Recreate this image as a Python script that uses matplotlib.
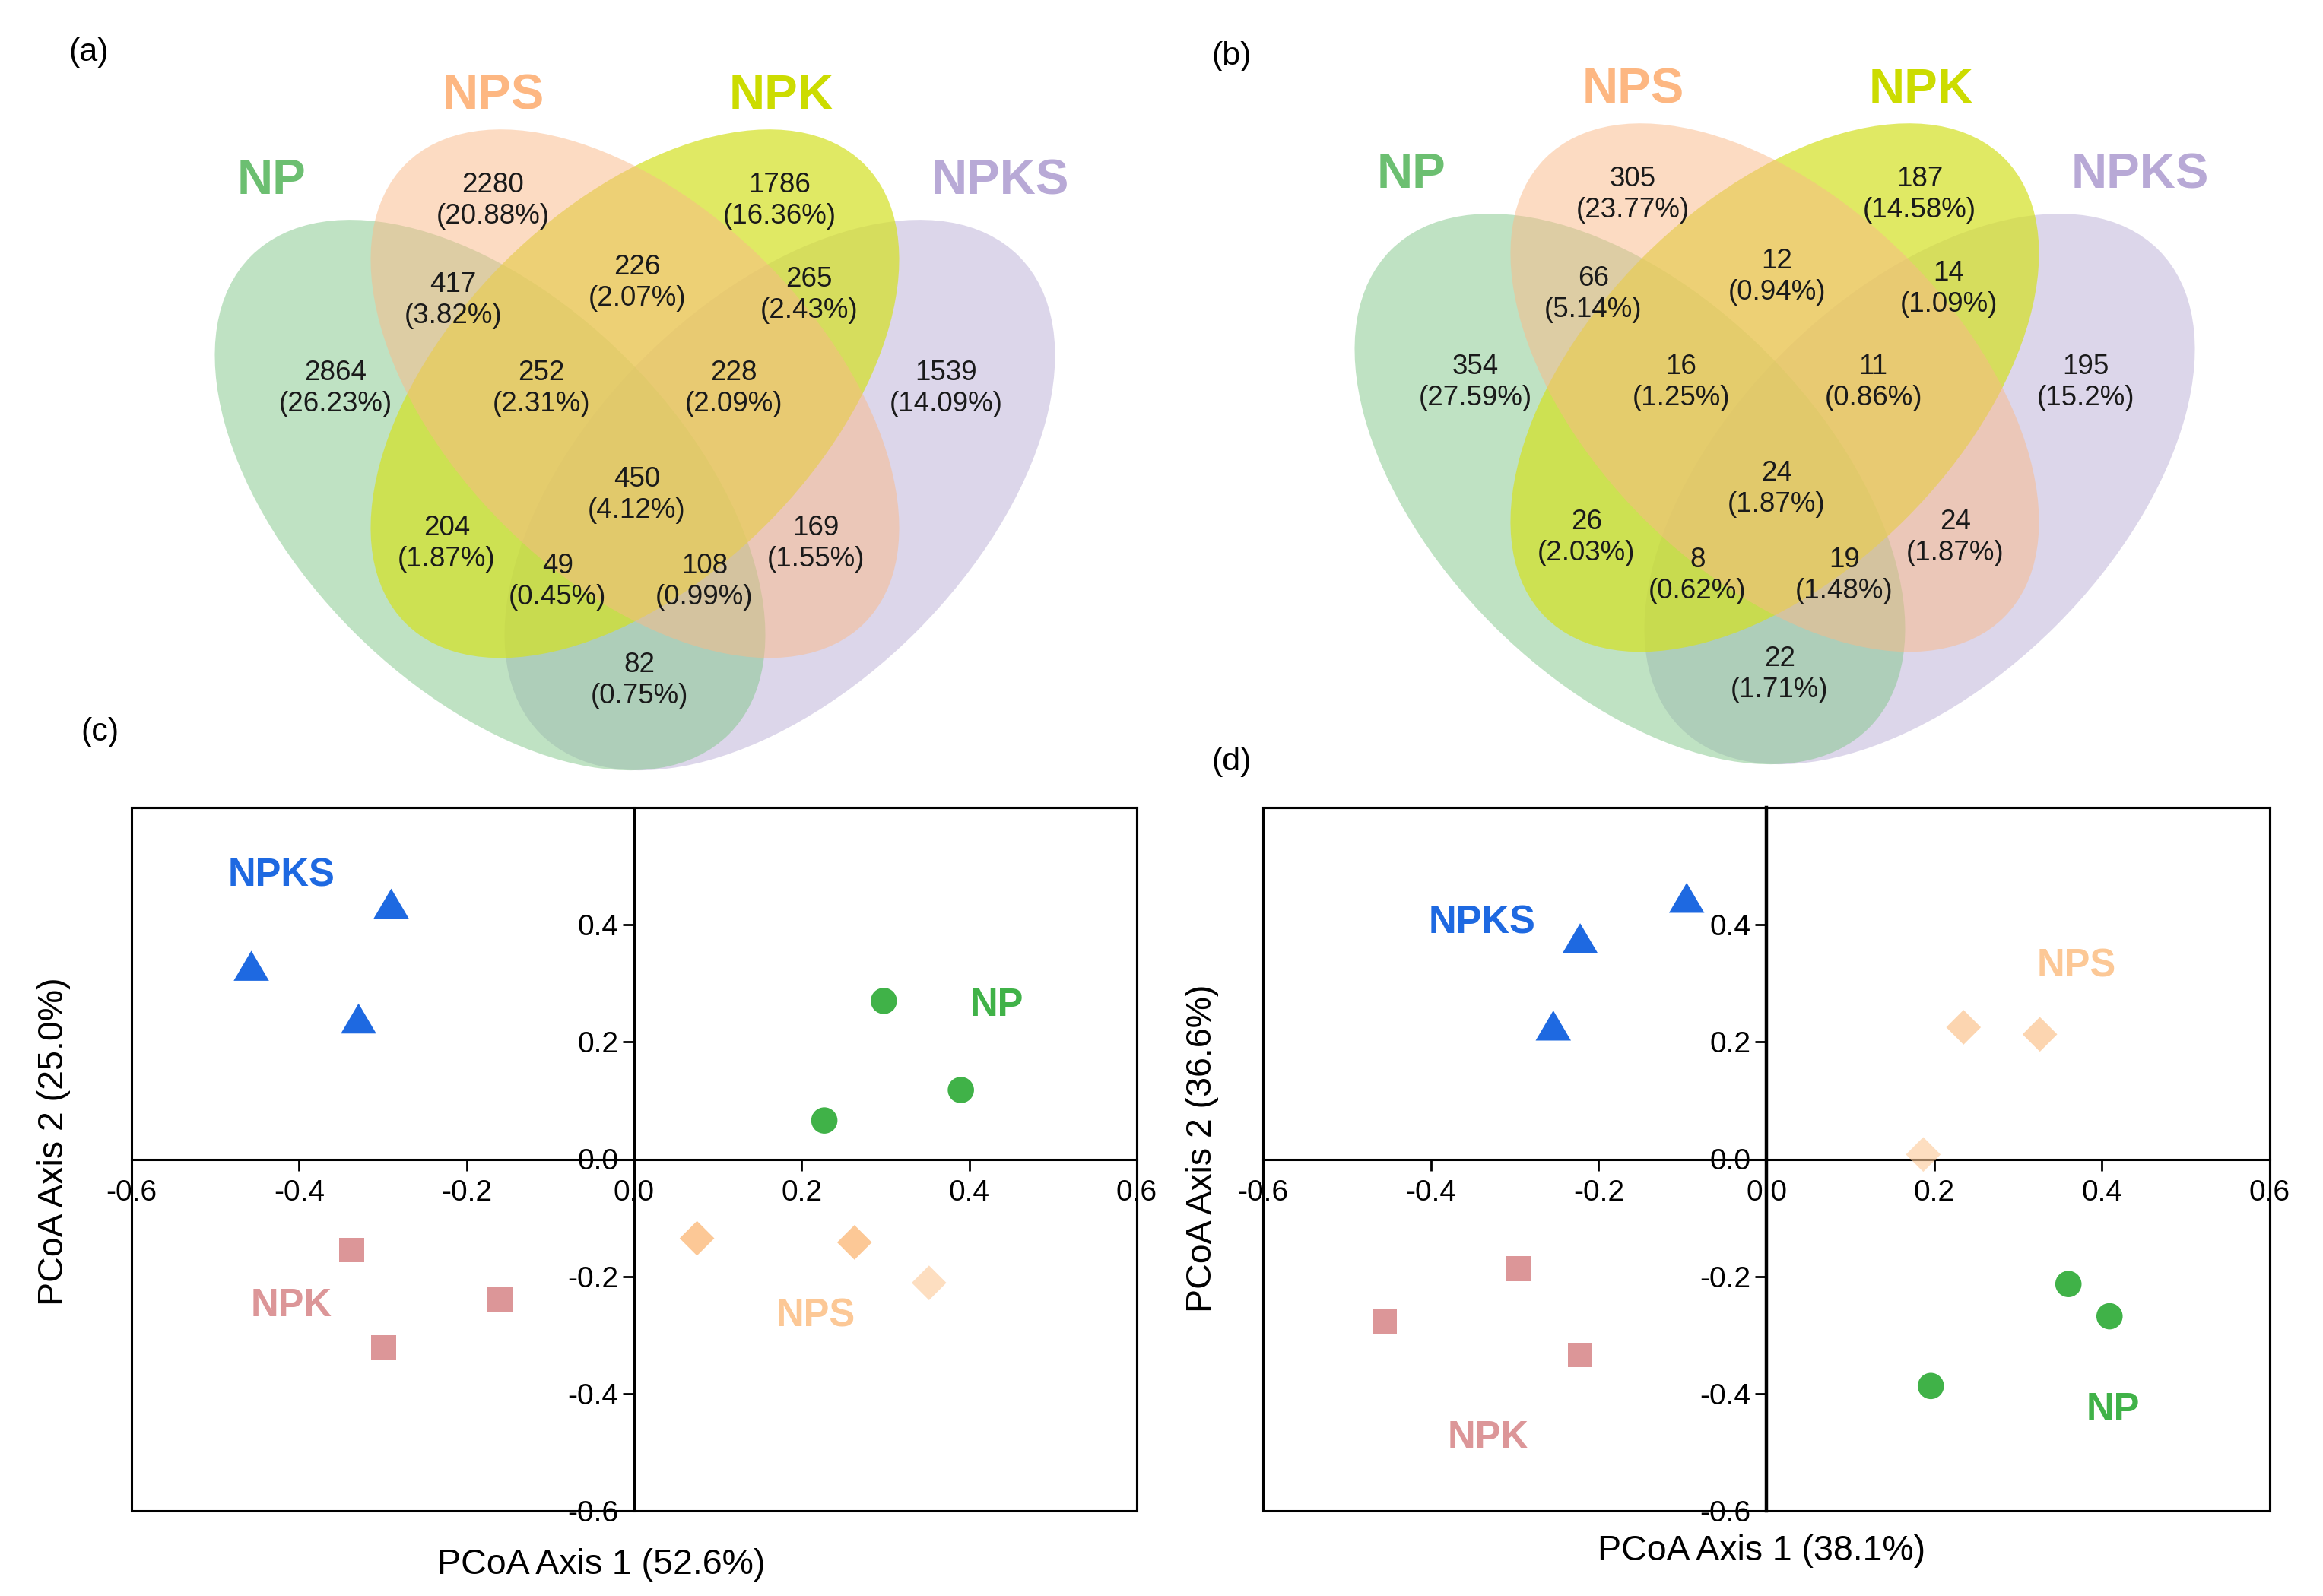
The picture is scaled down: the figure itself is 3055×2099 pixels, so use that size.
import matplotlib
matplotlib.use("Agg")
import matplotlib.pyplot as plt
from matplotlib.patches import Ellipse, Rectangle
from matplotlib.ticker import FormatStrFormatter, FixedLocator

plt.rcParams['font.family'] = ['Liberation Sans', 'DejaVu Sans']
plt.rcParams['axes.unicode_minus'] = False

# ---------------- data ----------------
sets = ['NP', 'NPS', 'NPK', 'NPKS']
region_keys = ['NP', 'NPS', 'NPK', 'NPKS',
               'NP&NPS', 'NPS&NPK', 'NPK&NPKS',
               'NP&NPS&NPK', 'NPS&NPK&NPKS', 'ALL',
               'NP&NPK', 'NPS&NPKS', 'NP&NPK&NPKS', 'NP&NPS&NPKS', 'NP&NPKS']
counts_a = [2864, 2280, 1786, 1539, 417, 226, 265, 252, 228, 450, 204, 169, 49, 108, 82]
pct_a = [26.23, 20.88, 16.36, 14.09, 3.82, 2.07, 2.43, 2.31, 2.09, 4.12, 1.87, 1.55, 0.45, 0.99, 0.75]
counts_b = [354, 305, 187, 195, 66, 12, 14, 16, 11, 24, 26, 24, 8, 19, 22]
pct_b = [27.59, 23.77, 14.58, 15.2, 5.14, 0.94, 1.09, 1.25, 0.86, 1.87, 2.03, 1.87, 0.62, 1.48, 1.71]

groups = ['NPKS', 'NP', 'NPK', 'NPS']
# panel (c)
c_x = {'NPKS': [-0.290, -0.457, -0.329],
       'NP':   [0.298, 0.390, 0.227],
       'NPK':  [-0.337, -0.160, -0.299],
       'NPS':  [0.075, 0.263, 0.352]}
c_y = {'NPKS': [0.436, 0.330, 0.240],
       'NP':   [0.270, 0.118, 0.066],
       'NPK':  [-0.155, -0.240, -0.322],
       'NPS':  [-0.135, -0.142, -0.211]}
c_xlabel = 'PCoA Axis 1 (52.6%)'
c_ylabel = 'PCoA Axis 2 (25.0%)'
# panel (d)
d_x = {'NPKS': [-0.095, -0.222, -0.254],
       'NP':   [0.360, 0.409, 0.196],
       'NPK':  [-0.295, -0.455, -0.222],
       'NPS':  [0.235, 0.326, 0.187]}
d_y = {'NPKS': [0.446, 0.377, 0.228],
       'NP':   [-0.213, -0.268, -0.387],
       'NPK':  [-0.187, -0.276, -0.334],
       'NPS':  [0.225, 0.213, 0.008]}
d_xlabel = 'PCoA Axis 1 (38.1%)'
d_ylabel = 'PCoA Axis 2 (36.6%)'

xticks = [-0.6, -0.4, -0.2, 0.0, 0.2, 0.4, 0.6]
yticks = [-0.6, -0.4, -0.2, 0.0, 0.2, 0.4]

# ---------------- layout / style ----------------
W, H = 3055, 2099
fig = plt.figure(figsize=(W / 100, H / 100), dpi=100)

ell_geom = {  # center x, center y, scale, angle (unit venn space)
    'NP': (0.35, 0.47, 1.0, -45),
    'NPS': (0.50, 0.575, 0.96, -45),
    'NPK': (0.50, 0.575, 0.96, 45),
    'NPKS': (0.65, 0.47, 1.0, 45),
}
fill = {'NP': '#81C789', 'NPS': '#FBB987', 'NPK': '#D4E122', 'NPKS': '#BBAFD7'}
fill_alpha = {'NP': 0.5, 'NPS': 0.5, 'NPK': 0.7, 'NPKS': 0.5}
draw_order = ['NPKS', 'NP', 'NPK', 'NPS']
title_col = {'NP': '#6CBF71', 'NPS': '#FDB782', 'NPK': '#CCDC00', 'NPKS': '#B8A9D6'}
title_pos = {'NP': (0.124, 0.795), 'NPS': (0.353, 0.883),
             'NPK': (0.652, 0.883), 'NPKS': (0.878, 0.795)}
region_pos = {
    'NP': (0.19, 0.58), 'NPS': (0.353, 0.775), 'NPK': (0.65, 0.775), 'NPKS': (0.822, 0.58),
    'NP&NPS': (0.312, 0.672), 'NPS&NPK': (0.502, 0.69), 'NPK&NPKS': (0.68, 0.677),
    'NP&NPS&NPK': (0.403, 0.58), 'NPS&NPK&NPKS': (0.602, 0.58), 'ALL': (0.502, 0.47),
    'NP&NPK': (0.305, 0.42), 'NPS&NPKS': (0.687, 0.42),
    'NP&NPK&NPKS': (0.42, 0.38), 'NP&NPS&NPKS': (0.572, 0.38), 'NP&NPKS': (0.505, 0.278),
}

U = 1270.0
ylo, yhi = 0.15, 0.98


def venn(origin_x, origin_y, counts, pcts):
    ax = fig.add_axes([origin_x / W, (H - (origin_y - ylo * U)) / H, U / W, (yhi - ylo) * U / H])
    ax.set_xlim(0, 1)
    ax.set_ylim(ylo, yhi)
    ax.axis('off')
    for name in draw_order:
        cx, cy, sc, ang = ell_geom[name]
        ax.add_patch(Ellipse((cx, cy), 0.70 * sc, 0.40 * sc, angle=ang,
                             facecolor=fill[name], alpha=fill_alpha[name],
                             edgecolor='none'))
    for key, c, p in zip(region_keys, counts, pcts):
        x, y = region_pos[key]
        ax.text(x, y, f"{c}\n({p:g}%)", ha='center', va='center',
                fontsize=26.5, linespacing=1.22, color='#1a1a1a')
    for s in sets:
        ax.text(*title_pos[s], s, color=title_col[s], fontsize=47,
                fontweight='bold', ha='center', va='center')
    return ax


venn(200, 1248, counts_a, pct_a)
venn(1699, 1240, counts_b, pct_b)

mk = {'NPKS': [(-1, -0.85), (1, -0.85), (0, 0.85)], 'NP': 'o', 'NPK': 's', 'NPS': 'D'}
mk_size = {'NPKS': 1120, 'NP': 620, 'NPK': 560, 'NPS': 540}
mk_col = {'NPKS': '#1E69E1', 'NP': '#40B248', 'NPK': '#DC9698', 'NPS': '#FCC896'}
lab_col = {'NPKS': '#1E69E1', 'NP': '#40B248', 'NPK': '#DC9698', 'NPS': '#FCC896'}


def pcoa(rect, xs, ys, xlabel, ylabel, label_pos, alphas, xl_xy, yl_xy, vlw):
    ax = fig.add_axes(rect)
    ax.set_xlim(-0.6, 0.6)
    ax.set_ylim(-0.6, 0.6)
    ax.spines['left'].set_position(('data', 0))
    ax.spines['bottom'].set_position(('data', 0))
    ax.spines['left'].set_linewidth(vlw)
    ax.spines['bottom'].set_linewidth(2.2)
    ax.spines['top'].set_linewidth(2.2)
    ax.spines['right'].set_linewidth(2.2)
    ax.add_patch(Rectangle((0, 0), 1, 1, transform=ax.transAxes, fill=False,
                           linewidth=2.2, edgecolor='black', clip_on=False, zorder=5))
    ax.xaxis.set_major_locator(FixedLocator(xticks))
    ax.yaxis.set_major_locator(FixedLocator(yticks))
    ax.xaxis.set_major_formatter(FormatStrFormatter('%.1f'))
    ax.yaxis.set_major_formatter(FormatStrFormatter('%.1f'))
    ax.tick_params(axis='both', direction='out', length=11, width=2, labelsize=28)
    ax.tick_params(axis='x', pad=8)
    ax.tick_params(axis='y', pad=4)
    for g in groups:
        cols = [matplotlib.colors.to_rgba(mk_col[g], a) for a in alphas[g]]
        ax.scatter(xs[g], ys[g], marker=mk[g], s=mk_size[g], c=cols,
                   edgecolors='none', zorder=4)
        ax.text(*label_pos[g], g, color=lab_col[g], fontsize=36.5,
                fontweight='bold', ha='center', va='center')
    ax.set_xlabel(xlabel, fontsize=33.5, va='center', ha='center')
    ax.set_ylabel(ylabel, fontsize=33.5, va='center', ha='center')
    ax.xaxis.set_label_coords(*xl_xy)
    ax.yaxis.set_label_coords(*yl_xy)
    return ax


c_labels = {'NPKS': (-0.421, 0.483), 'NP': (0.433, 0.262), 'NPK': (-0.409, -0.250), 'NPS': (0.217, -0.268)}
d_labels = {'NPKS': (-0.339, 0.403), 'NP': (0.413, -0.428), 'NPK': (-0.332, -0.476), 'NPS': (0.370, 0.329)}
c_alpha = {'NPKS': [1, 1, 1], 'NP': [1, 1, 1], 'NPK': [1, 1, 1], 'NPS': [1, 1, 0.6]}
d_alpha = {'NPKS': [1, 1, 1], 'NP': [1, 1, 1], 'NPK': [1, 1, 1], 'NPS': [0.75, 0.75, 0.6]}

top_px, bot_px = 1062, 1987
bottom = (H - bot_px) / H
height = (bot_px - top_px) / H
pcoa([173 / W, bottom, (1495 - 173) / W, height], c_x, c_y, c_xlabel, c_ylabel, c_labels,
     c_alpha, (0.467, -0.0765), (-0.0775, 0.525), 2.2)
pcoa([1661 / W, bottom, (2985 - 1661) / W, height], d_x, d_y, d_xlabel, d_ylabel, d_labels,
     d_alpha, (0.495, -0.057), (-0.0605, 0.515), 3.2)

fig.text(117 / W, 1 - 69 / H, '(a)', fontsize=31, ha='center', va='center')
fig.text(1620 / W, 1 - 74 / H, '(b)', fontsize=31, ha='center', va='center')
fig.text(131 / W, 1 - 963 / H, '(c)', fontsize=31, ha='center', va='center')
fig.text(1620 / W, 1 - 1002 / H, '(d)', fontsize=31, ha='center', va='center')

fig.savefig('out.png', dpi=100, facecolor='white')
